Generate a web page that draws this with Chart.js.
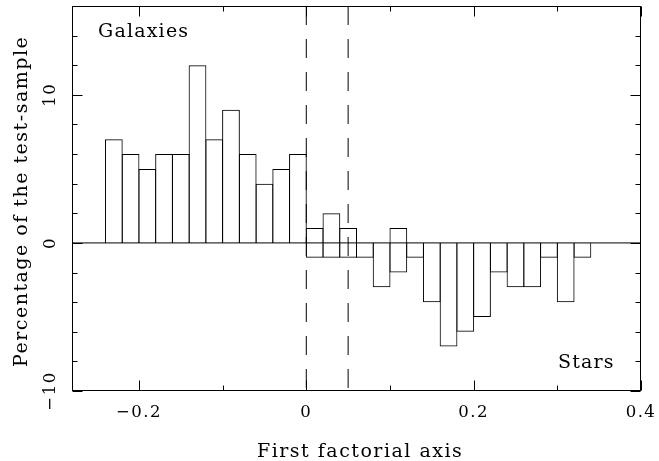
<!DOCTYPE html>
<html>
<head>
<meta charset="utf-8">
<title>First factorial axis</title>
<script src="https://cdn.jsdelivr.net/npm/chart.js@4/dist/chart.umd.min.js"></script>
<style>
  html, body { margin: 0; padding: 0; background: #fff; }
  #wrap { width: 659px; height: 461px; position: relative; }
</style>
</head>
<body>
<div id="wrap"><canvas id="hist"></canvas></div>
<script>
// histogram bins along the first factorial axis
const binWidth = 0.02;
const galaxyStart = -0.24;
const galaxyPct = [7, 6, 5, 6, 6, 12, 7, 9, 6, 4, 5, 6, 1, 2, 1, 0, 0, 1];
const starStart = 0;
const starPct = [-1, -1, -1, -1, -3, -2, -1, -4, -7, -6, -5, -2, -3, -3, -1, -4, -1];

// axis ranges, cut lines and tick marks
const xRange = [-0.28, 0.4];
const yRange = [-10, 16];
const cutLines = [0, 0.05];
const xMajor = [-0.2, 0, 0.2, 0.4];
const xMajorLabels = ['\u22120.2', '0', '0.2', '0.4'];
const xMinor = [-0.1, 0.1, 0.3];
const yMajor = [-10, 0, 10];
const yMajorLabels = ['\u221210', '0', '10'];
const yMinor = [-8, -6, -4, -2, 2, 4, 6, 8, 12, 14];

// bin centres, rounded so both series share exactly the same x values
function toPoints(start, values) {
  return values.map((v, i) => ({ x: +(start + (i + 0.5) * binWidth).toFixed(4), y: v }));
}

const barStyle = {
  type: 'bar',
  backgroundColor: 'rgba(0,0,0,0)',
  borderColor: '#000',
  borderWidth: 1,
  inflateAmount: 0,
  grouped: false,
  barPercentage: 1,
  categoryPercentage: 1.06
};

const lineStyle = {
  type: 'line',
  borderColor: '#000',
  borderWidth: 1,
  pointRadius: 0,
  fill: false
};

const datasets = [
  Object.assign({ label: 'Galaxies', data: toPoints(galaxyStart, galaxyPct) }, barStyle),
  Object.assign({ label: 'Stars', data: toPoints(starStart, starPct) }, barStyle),
  Object.assign({ label: 'zero', data: [{ x: xRange[0], y: 0 }, { x: xRange[1], y: 0 }] }, lineStyle)
];
cutLines.forEach(c => {
  datasets.push(Object.assign({
    label: 'cut ' + c,
    data: [{ x: c, y: yRange[1] }, { x: c, y: yRange[0] }],
    borderDash: [19, 14]
  }, lineStyle));
});

const FONT = '"DejaVu Serif", serif';

// frame, inward ticks and all lettering
const framePlugin = {
  id: 'frame',
  afterDraw(chart) {
    const { ctx, chartArea: a, scales: { x, y } } = chart;
    const L = a.left + 0.5, R = a.right - 0.5, T = a.top + 0.5, B = a.bottom - 0.5;
    ctx.save();
    ctx.strokeStyle = '#000';
    ctx.lineWidth = 1;
    ctx.strokeRect(L, T, R - L, B - T);

    ctx.beginPath();
    const xTick = (v, len) => {
      const px = Math.round(x.getPixelForValue(v)) + 0.5;
      ctx.moveTo(px, B); ctx.lineTo(px, B - len);
      ctx.moveTo(px, T); ctx.lineTo(px, T + len);
    };
    const yTick = (v, len) => {
      const py = Math.round(y.getPixelForValue(v)) + 0.5;
      ctx.moveTo(L, py); ctx.lineTo(L + len, py);
      ctx.moveTo(R, py); ctx.lineTo(R - len, py);
    };
    xMajor.forEach(v => xTick(v, 10));
    xMinor.forEach(v => xTick(v, 5));
    yMajor.forEach(v => yTick(v, 10));
    yMinor.forEach(v => yTick(v, 5));
    ctx.stroke();

    ctx.fillStyle = '#000';
    ctx.textBaseline = 'alphabetic';

    // tick labels
    ctx.font = '16.5px ' + FONT;
    ctx.letterSpacing = '1.5px';
    ctx.textAlign = 'center';
    xMajor.forEach((v, i) => {
      ctx.fillText(xMajorLabels[i], x.getPixelForValue(v), 417);
    });
    yMajor.forEach((v, i) => {
      ctx.save();
      ctx.translate(55, y.getPixelForValue(v));
      ctx.rotate(-Math.PI / 2);
      ctx.fillText(yMajorLabels[i], 0, 0);
      ctx.restore();
    });

    // axis titles
    ctx.font = '19px ' + FONT;
    ctx.letterSpacing = '1.5px';
    ctx.textAlign = 'left';
    ctx.fillText('First factorial axis', 257, 457);
    ctx.save();
    ctx.translate(27, 367);
    ctx.rotate(-Math.PI / 2);
    ctx.fillText('Percentage of the test-sample', 0, 0);
    ctx.restore();

    // panel labels
    ctx.letterSpacing = '1.2px';
    ctx.fillText('Galaxies', 98, 37);
    ctx.fillText('Stars', 558, 368);
    ctx.restore();
  }
};

new Chart(document.getElementById('hist'), {
  type: 'bar',
  data: { datasets: datasets },
  options: {
    responsive: true,
    maintainAspectRatio: false,
    animation: false,
    events: [],
    layout: { padding: { left: 72, right: 18, top: 6, bottom: 70 } },
    scales: {
      x: { type: 'linear', min: xRange[0], max: xRange[1], offset: false, display: false },
      y: { type: 'linear', min: yRange[0], max: yRange[1], display: false }
    },
    plugins: {
      legend: { display: false },
      tooltip: { enabled: false },
      title: { display: false }
    }
  },
  plugins: [framePlugin]
});
</script>
</body>
</html>
